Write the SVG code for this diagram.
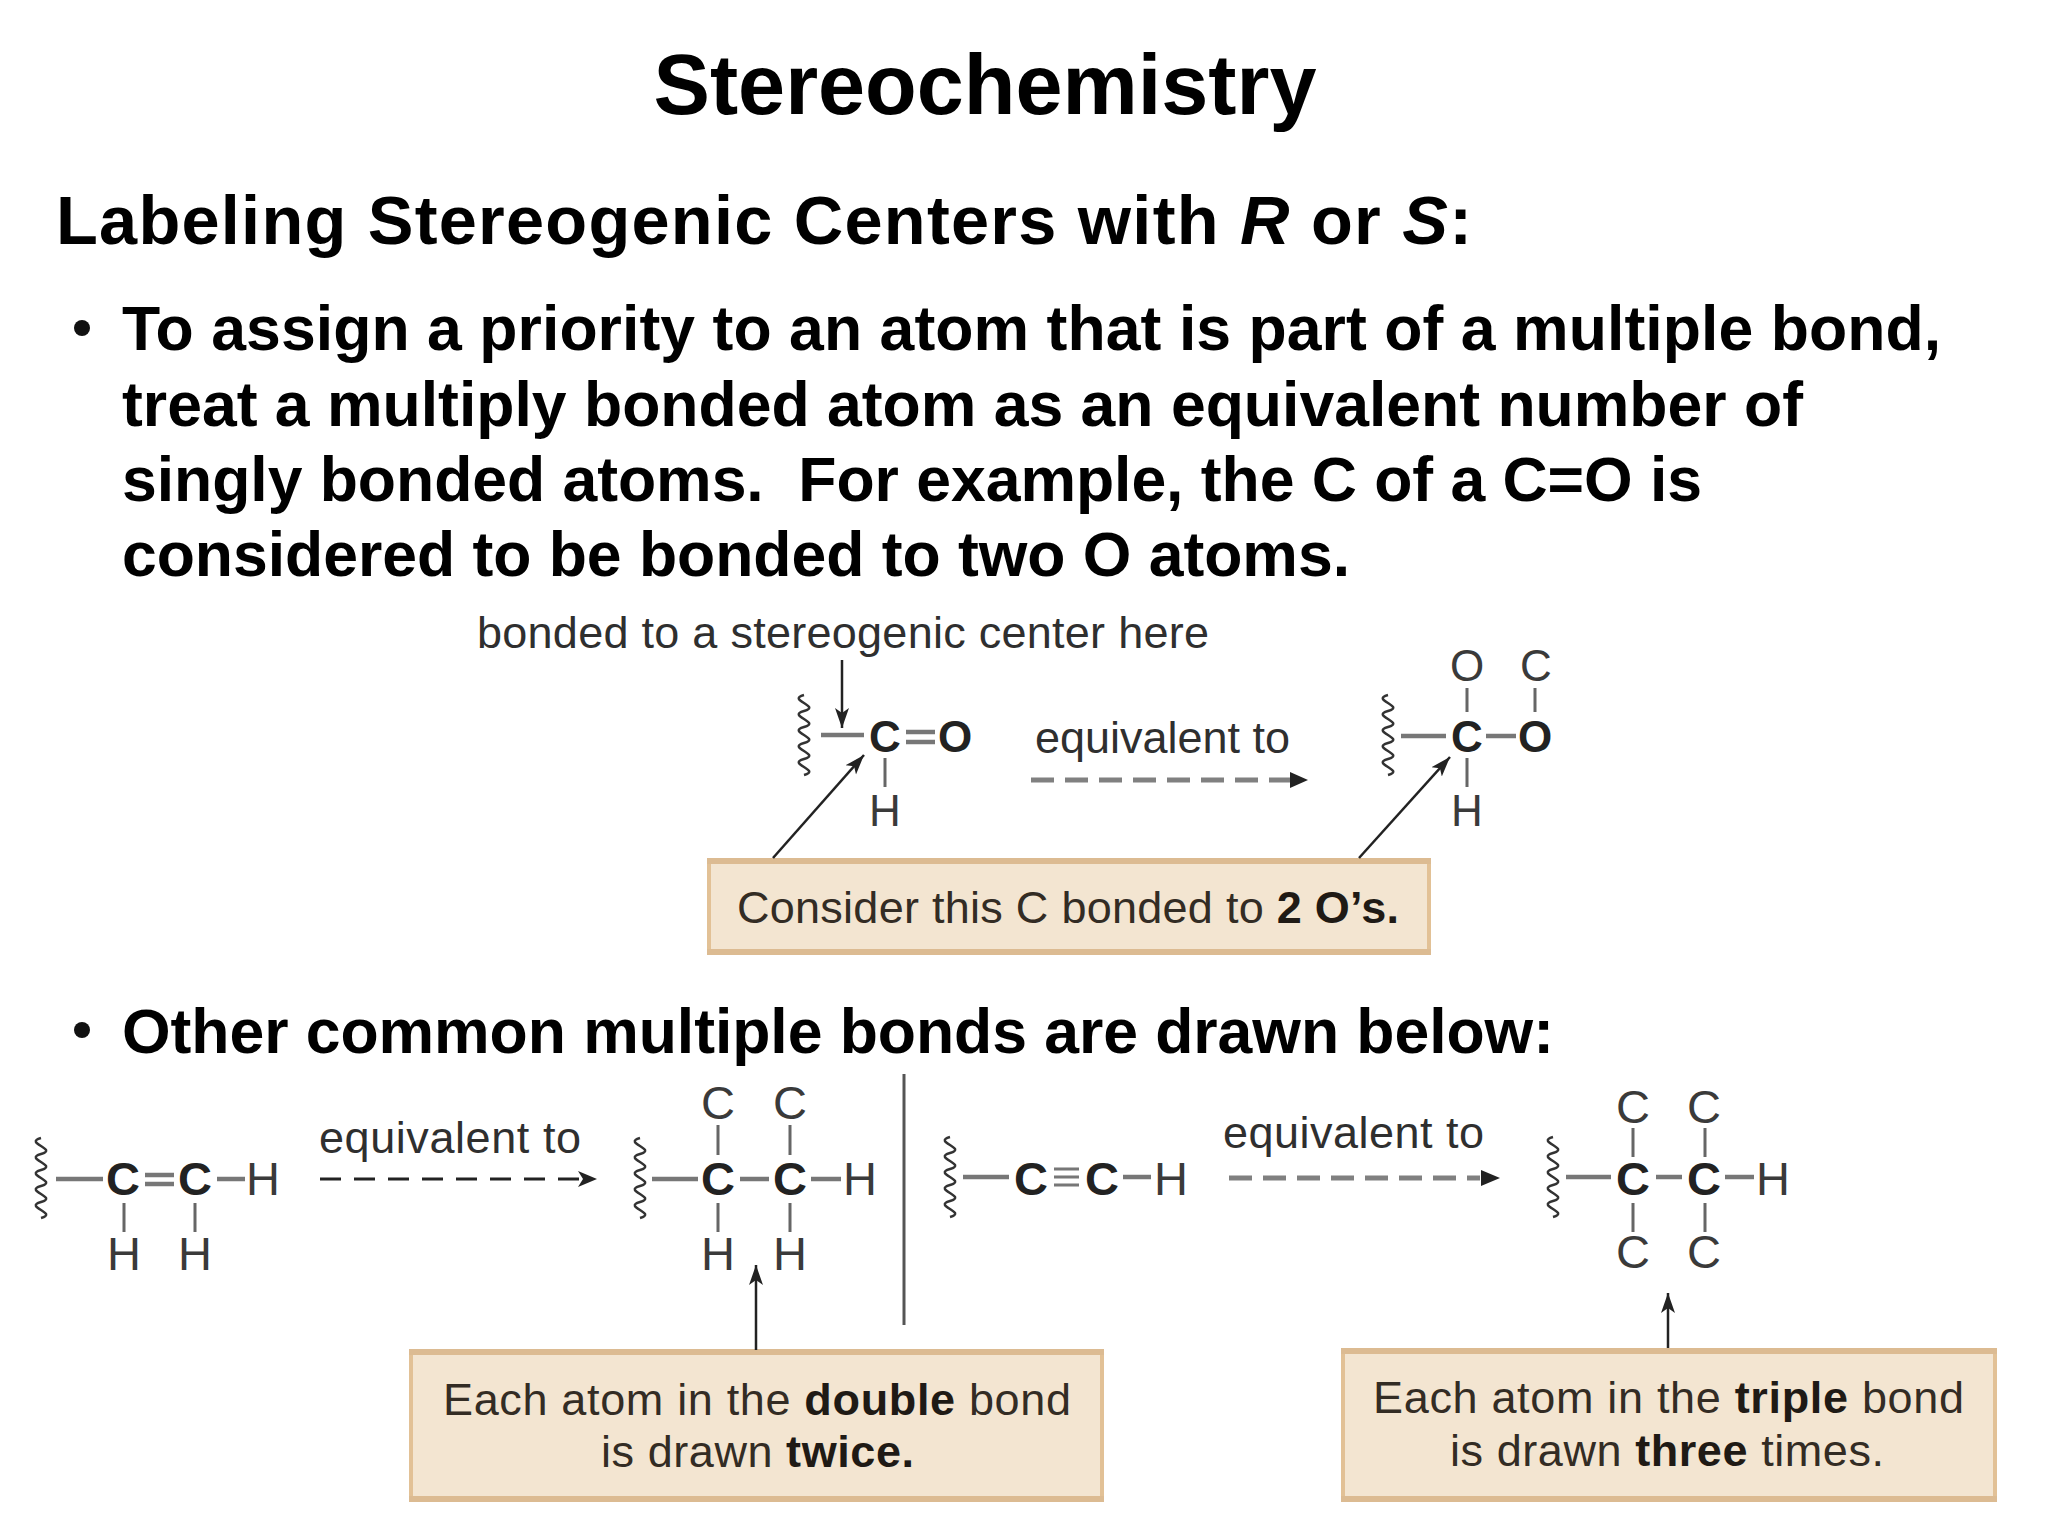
<svg xmlns="http://www.w3.org/2000/svg" width="2048" height="1536" viewBox="0 0 2048 1536">
<style>
text{font-family:"Liberation Sans",Arial,sans-serif}
.t{font-weight:700;fill:#000}
.title{font-size:84.6px;text-anchor:middle}
.head1{font-size:68.5px}
.body{font-size:62.5px}
.lab{font-size:45px;fill:#2f2f2f}
.boxt{font-size:45px;fill:#332c24}
.boxt tspan{font-weight:700;fill:#1f1a15}
.a{font-size:47px;text-anchor:middle;fill:#3a3a3a}
.m1{font-size:44px}
.b{font-weight:700;fill:#222}
.bond{stroke:#666;stroke-width:3;fill:none}
.bond2{stroke:#777;stroke-width:4.5;fill:none}
.sq{stroke:#333;stroke-width:2.5;fill:none}
.box{fill:#f3e5d1}
.edge{fill:none;stroke:#e2c196;stroke-width:4}
.edgeh{fill:none;stroke:#dcbb92;stroke-width:6}
.arr{stroke:#222;stroke-width:2.5;fill:none;marker-end:url(#ah)}
.dash{stroke:#808080;stroke-width:5;fill:none;stroke-dasharray:23 11}
.dashk{stroke:#222;stroke-width:3;fill:none;stroke-dasharray:21 13}
.head{fill:#222}
</style>
<defs>
<marker id="ah" markerUnits="userSpaceOnUse" markerWidth="24" markerHeight="18" refX="20" refY="9" orient="auto">
<path d="M0 2 L20 9 L0 16 L5 9 Z" fill="#222"/>
</marker>
<path id="wave" d="M8 0 C-10 5 26 11 8 16 C-10 21 26 27 8 32 C-10 37 26 43 8 48 C-10 53 26 59 8 64 C-10 69 26 75 8 80"/>
</defs>

<g id="title"><text class="t title" x="985" y="114">Stereochemistry</text></g>
<g id="heading"><text class="t head1" x="56" y="244" textLength="1416">Labeling Stereogenic Centers with <tspan font-style="italic">R</tspan> or <tspan font-style="italic">S</tspan>:</text></g>
<g id="bullet-1">
<circle cx="82" cy="328" r="8" fill="#111"/>
<text class="t body" x="122" y="350" textLength="1819">To assign a priority to an atom that is part of a multiple bond,</text>
<text class="t body" x="122" y="426" textLength="1681">treat a multiply bonded atom as an equivalent number of</text>
<text class="t body" x="122" y="501" textLength="1580" xml:space="preserve">singly bonded atoms.  For example, the C of a C=O is</text>
<text class="t body" x="122" y="576" textLength="1228">considered to be bonded to two O atoms.</text>
</g>
<g id="bullet-2">
<circle cx="82" cy="1030" r="8" fill="#111"/>
<text class="t body" x="122" y="1053" textLength="1432">Other common multiple bonds are drawn below:</text>
</g>

<g id="label-bonded"><text class="lab" x="477" y="648" textLength="732">bonded to a stereogenic center here</text></g>
<g id="molecule-carbonyl">
<use href="#wave" class="sq" x="796" y="695"/>
<path class="bond2" d="M821 735H864M906 732H935M906 742H935"/>
<path class="bond" d="M885 758V787"/>
<text class="a m1 b" x="885" y="752">C</text><text class="a m1 b" x="955" y="752">O</text>
<text class="a m1" x="885" y="826">H</text>
</g>
<g id="molecule-carbonyl-equiv">
<use href="#wave" class="sq" x="1380" y="695"/>
<path class="bond2" d="M1401 736H1446M1486 736H1516"/>
<path class="bond" d="M1467 688V712M1535 688V712M1467 758V787"/>
<text class="a m1 b" x="1467" y="752">C</text><text class="a m1 b" x="1535" y="752">O</text>
<text class="a m1" x="1467" y="681">O</text><text class="a m1" x="1536" y="681">C</text>
<text class="a m1" x="1467" y="826">H</text>
</g>
<g id="label-equivalent-1"><text class="lab" x="1035" y="753" textLength="255">equivalent to</text></g>
<g id="box-carbonyl">
<rect class="box" x="707" y="859" width="724" height="96"/>
<path class="edge" d="M709 859V955M1429 859V955"/><path class="edgeh" d="M707 861H1431M707 952H1431"/>
<text class="boxt" x="737" y="923" textLength="662">Consider this C bonded to <tspan>2 O’s.</tspan></text>
</g>

<g id="molecule-alkene">
<use href="#wave" class="sq" x="33" y="1138"/>
<path class="bond2" d="M56 1179H103M145 1175H174M145 1184H174M217 1179H245"/>
<path class="bond" d="M124 1203V1232M195 1203V1232"/>
<text class="a b" x="123" y="1195">C</text><text class="a b" x="195" y="1195">C</text>
<text class="a" x="263" y="1195">H</text><text class="a" x="124" y="1270">H</text><text class="a" x="195" y="1270">H</text>
</g>
<g id="label-equivalent-2"><text class="lab" x="319" y="1153" textLength="262">equivalent to</text></g>
<g id="molecule-alkene-equiv">
<use href="#wave" class="sq" x="632" y="1138"/>
<path class="bond2" d="M652 1179H698M740 1179H769M811 1179H841"/>
<path class="bond" d="M718 1125V1155M790 1125V1155M718 1203V1232M790 1203V1232"/>
<text class="a b" x="718" y="1195">C</text><text class="a b" x="790" y="1195">C</text>
<text class="a" x="860" y="1195">H</text>
<text class="a" x="718" y="1119">C</text><text class="a" x="790" y="1119">C</text>
<text class="a" x="718" y="1270">H</text><text class="a" x="790" y="1270">H</text>
</g>
<g id="divider"><path d="M904 1074V1325" stroke="#555" stroke-width="3" fill="none"/></g>
<g id="molecule-alkyne">
<use href="#wave" class="sq" x="942" y="1137"/>
<path class="bond2" d="M963 1177H1009M1123 1177H1151"/>
<path stroke="#777" stroke-width="3" fill="none" d="M1054 1169H1079M1054 1177H1079M1054 1185H1079"/>
<text class="a b" x="1031" y="1195">C</text><text class="a b" x="1102" y="1195">C</text>
<text class="a" x="1171" y="1195">H</text>
</g>
<g id="label-equivalent-3"><text class="lab" x="1223" y="1148" textLength="261">equivalent to</text></g>
<g id="molecule-alkyne-equiv">
<use href="#wave" class="sq" x="1545" y="1137"/>
<path class="bond2" d="M1566 1177H1611M1656 1177H1682M1725 1177H1754"/>
<path class="bond" d="M1633 1128V1157M1705 1128V1157M1633 1203V1232M1705 1203V1232"/>
<text class="a b" x="1633" y="1195">C</text><text class="a b" x="1704" y="1195">C</text>
<text class="a" x="1773" y="1195">H</text>
<text class="a" x="1633" y="1123">C</text><text class="a" x="1704" y="1123">C</text>
<text class="a" x="1633" y="1268">C</text><text class="a" x="1704" y="1268">C</text>
</g>
<g id="box-double">
<rect class="box" x="409" y="1350" width="695" height="152"/>
<path class="edge" d="M411 1350V1502M1102 1350V1502"/><path class="edgeh" d="M409 1352H1104M409 1499H1104"/>
<text class="boxt" x="443" y="1415" textLength="628">Each atom in the <tspan>double</tspan> bond</text>
<text class="boxt" x="601" y="1467" textLength="313">is drawn <tspan>twice.</tspan></text>
</g>
<g id="box-triple">
<rect class="box" x="1341" y="1349" width="656" height="153"/>
<path class="edge" d="M1343 1349V1502M1995 1349V1502"/><path class="edgeh" d="M1341 1351H1997M1341 1499H1997"/>
<text class="boxt" x="1373" y="1413" textLength="591">Each atom in the <tspan>triple</tspan> bond</text>
<text class="boxt" x="1450" y="1466" textLength="434">is drawn <tspan>three</tspan> times.</text>
</g>

<g id="connectors">
<path class="arr" d="M842 660V728"/>
<path class="arr" d="M773 858L864 755"/>
<path class="arr" d="M1359 858L1450 757"/>
<path class="arr" d="M756 1350V1265"/>
<path class="arr" d="M1668 1348V1293"/>
<path class="dash" d="M1031 780H1290"/><path class="head" d="M1290 772L1308 780L1290 788Z"/>
<path class="dashk" d="M320 1179H580"/><path class="head" d="M578 1171L597 1179L578 1187L583 1179Z"/>
<path class="dash" d="M1229 1178H1480"/><path class="head" d="M1481 1170L1500 1178L1481 1186Z"/>
</g>
</svg>
